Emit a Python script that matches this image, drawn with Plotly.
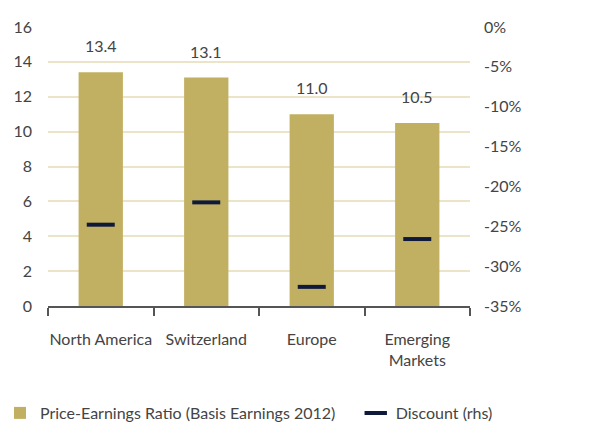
import plotly.graph_objects as go

categories = ["North America", "Switzerland", "Europe", "Emerging<br>Markets"]
pe_ratio = [13.4, 13.1, 11.0, 10.5]
discount = [-24.8, -22.0, -32.6, -26.6]
pe_labels = ["13.4", "13.1", "11.0", "10.5"]
rhs_ticks = [0, -5, -10, -15, -20, -25, -30, -35]
rhs_tick_labels = ["0%", "-5%", "-10%", "-15%", "-20%", "-25%", "-30%", "-35%"]

gold = "#c2b062"
navy = "#0f1a3a"
txt = "#444444"
font_family = "Lato"
fs = 16

fig = go.Figure()
fig.add_trace(go.Bar(
    x=categories, y=pe_ratio, name="Price-Earnings Ratio (Basis Earnings 2012)",
    marker=dict(color=gold, line=dict(width=0)), legend="legend",
))
fig.add_trace(go.Scatter(
    x=categories, y=discount, name="Discount (rhs)", yaxis="y2", mode="markers",
    marker=dict(symbol="line-ew", size=20, color=navy, line=dict(width=4, color=navy)),
    legend="legend2",
))
for c, v, t in zip(categories, pe_ratio, pe_labels):
    fig.add_annotation(x=c, y=v, text=t, showarrow=False, yanchor="bottom", yshift=15,
                       font=dict(size=fs, color=txt, family=font_family))

leg_common = dict(orientation="h", xref="container", yref="container", yanchor="middle",
                  y=0.044, xanchor="left",
                  font=dict(size=fs, color=txt), itemwidth=30, bgcolor="rgba(0,0,0,0)")

fig.update_layout(
    width=605, height=432,
    margin=dict(l=48, r=135, t=27, b=126, autoexpand=False),
    paper_bgcolor="white", plot_bgcolor="white",
    font=dict(family=font_family, size=fs, color=txt),
    bargap=0.58,
    showlegend=True,
    legend=dict(x=0.0, **leg_common),
    legend2=dict(x=0.588, **leg_common),
    xaxis=dict(type="category", showgrid=False, showline=True, linecolor="#555555", linewidth=1.5,
               ticks="outside", tickson="boundaries", ticklen=8, tickcolor="#555555", tickwidth=1.5,
               tickangle=0, automargin=False, ticklabelstandoff=18,
               tickfont=dict(size=fs, color=txt)),
    yaxis=dict(range=[0, 16], dtick=2, showgrid=True, gridcolor="#ece4c8", gridwidth=1.5,
               zeroline=False, showline=False, ticks="", ticklabelstandoff=15, automargin=False,
               tickfont=dict(size=fs, color=txt)),
    yaxis2=dict(range=[-35, 0], tickmode="array", tickvals=rhs_ticks, ticktext=rhs_tick_labels,
                overlaying="y", side="right", showgrid=False, automargin=False,
                zeroline=False, showline=False, ticklabelstandoff=13,
                tickfont=dict(size=fs, color=txt)),
)

fig.write_html("out.html")
